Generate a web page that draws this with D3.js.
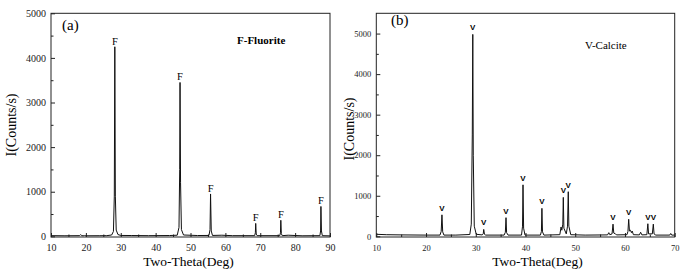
<!DOCTYPE html>
<html lang="en">
<head>
  <meta charset="UTF-8">
  <title>XRD patterns - Fluorite and Calcite</title>
  <script src="https://d3js.org/d3.v7.min.js"></script>
  <style>
    body { margin: 0; background: #fff; }
    svg { display: block; font-family: "Liberation Serif", "Times New Roman", serif; }
    .frame { fill: none; stroke: #222; stroke-width: 1; }
    .trace { fill: none; stroke: #111; stroke-width: 1; }
    .axis path { display: none; }
    .axis line { stroke: #222; }
    .axis text { fill: #222; font-family: "Liberation Serif", serif; }
  </style>
</head>
<body>
<svg id="chart" width="696" height="274"></svg>
<script>
  // (a) fluorite pattern, [two-theta, counts]
  const fluoritePattern = [
    [10, 15], [14, 12], [18.2, 15], [18.5, 40], [18.8, 15], [19.4, 12], [19.6, 30], [19.8, 12],
    [24, 14], [26, 15], [27.4, 30], [27.9, 110], [28.15, 900], [28.3, 4250], [28.45, 900],
    [28.7, 140], [29.2, 40], [30, 20], [33, 18], [38, 15], [44, 18],
    [46.2, 25], [46.7, 200], [46.9, 1500], [47.0, 3450], [47.15, 1200], [47.4, 150], [48, 30],
    [52, 18], [55.3, 20], [55.6, 150], [55.75, 950], [55.95, 120], [56.3, 20],
    [59, 25], [62, 15], [68.4, 15], [68.6, 80], [68.7, 290], [68.85, 50], [69.1, 15],
    [75.6, 15], [75.8, 80], [75.9, 360], [76.05, 60], [76.3, 15], [78, 25], [82, 12],
    [87.1, 15], [87.3, 120], [87.4, 670], [87.55, 120], [87.8, 15], [90, 10]
  ];
  const fluoriteLabels = [28.3, 47.0, 55.75, 68.7, 75.9, 87.4];
  const fluoriteLabelCounts = [4250, 3450, 950, 290, 360, 670];

  // (b) calcite pattern, [two-theta, counts]
  const calcitePattern = [
    [10, 50], [12, 40], [15, 35], [20, 30], [22.8, 30], [23.05, 120], [23.2, 530], [23.35, 110],
    [23.6, 30], [26, 30], [28.8, 45], [29.1, 300], [29.3, 2500], [29.4, 4980], [29.5, 2000],
    [29.7, 250], [30.1, 50], [31.3, 35], [31.5, 60], [31.6, 170], [31.75, 50], [32, 30],
    [35.7, 30], [35.95, 100], [36.08, 460], [36.2, 90], [36.5, 30],
    [39.2, 30], [39.4, 250], [39.5, 1270], [39.62, 200], [39.9, 30],
    [43.0, 30], [43.2, 120], [43.3, 690], [43.42, 110], [43.7, 30],
    [46.9, 40], [47.15, 230], [47.3, 150], [47.5, 300], [47.6, 960], [47.72, 200], [48.2, 60],
    [48.45, 250], [48.6, 1100], [48.72, 250], [49.1, 40], [52, 30],
    [56.5, 35], [56.75, 90], [56.95, 40], [57.4, 60], [57.6, 300], [57.75, 80], [58.1, 60], [58.3, 35],
    [60.4, 40], [60.6, 120], [60.75, 420], [60.9, 130], [61.1, 150], [61.3, 90], [61.45, 130], [61.7, 40],
    [62.9, 35], [63.15, 100], [63.4, 35], [64.4, 40], [64.6, 310], [64.75, 60],
    [65.5, 60], [65.7, 300], [65.85, 60], [66.2, 30], [69.0, 30], [69.2, 70], [69.4, 30], [70, 30]
  ];
  const calciteLabels = [23.2, 29.4, 31.6, 36.08, 39.5, 43.3, 47.6, 48.6, 57.6, 60.75, 64.6, 65.7];
  const calciteLabelCounts = [530, 4980, 170, 460, 1270, 690, 960, 1100, 300, 420, 310, 300];

  const xTicksA = [10, 20, 30, 40, 50, 60, 70, 80, 90];
  const xTicksB = [10, 20, 30, 40, 50, 60, 70];
  const yTicks = [0, 1000, 2000, 3000, 4000, 5000];

  const svg = d3.select("#chart");
  svg.append("rect").attr("width", 696).attr("height", 274).attr("fill", "#fff");

  function panel(o) {
    const x = d3.scaleLinear().domain(o.xDomain).range(o.xRange);
    const y = d3.scaleLinear().domain(o.yDomain).range([237, 13.3]);
    const g = svg.append("g");

    // minor ticks
    const xMinor = d3.range(o.xDomain[0] + 5, o.xDomain[1], 10);
    const yMinor = d3.range(500, o.yDomain[1], 1000);
    g.append("g").attr("class", "axis").attr("transform", "translate(0,237)")
      .call(d3.axisBottom(x).tickValues(xMinor).tickFormat("").tickSizeInner(-2.5).tickSizeOuter(0));
    g.append("g").attr("class", "axis").attr("transform", `translate(${o.xRange[0]},0)`)
      .call(d3.axisLeft(y).tickValues(yMinor).tickFormat("").tickSizeInner(-2.5).tickSizeOuter(0));

    // major ticks
    g.append("g").attr("class", "axis").attr("transform", "translate(0,237)")
      .call(d3.axisBottom(x).tickValues(o.xTicks).tickFormat(d3.format("d"))
        .tickSizeInner(-4).tickSizeOuter(0).tickPadding(o.xPad))
      .selectAll("text").style("font-size", o.tickFont + "px");
    g.append("g").attr("class", "axis").attr("transform", `translate(${o.xRange[0]},0)`)
      .call(d3.axisLeft(y).tickValues(yTicks).tickFormat(d3.format("d"))
        .tickSizeInner(-4).tickSizeOuter(0).tickPadding(5))
      .selectAll("text").style("font-size", o.tickFont + "px");

    // trace
    g.append("path").datum(o.data).attr("class", "trace")
      .attr("d", d3.line().x(d => x(d[0])).y(d => y(d[1])));

    // frame
    g.append("rect").attr("class", "frame")
      .attr("x", o.xRange[0]).attr("y", 13.3)
      .attr("width", o.xRange[1] - o.xRange[0]).attr("height", 237 - 13.3);

    // peak markers
    g.selectAll(".peak").data(o.labels).join("text")
      .attr("x", d => x(d)).attr("y", (d, i) => y(o.labelCounts[i]) - o.labelGap)
      .attr("text-anchor", "middle")
      .style("font-family", o.markFamily).style("font-size", o.markSize + "px")
      .style("font-weight", o.markWeight)
      .text(o.mark);

    // panel tag and phase name
    g.append("text").attr("x", o.tag[0]).attr("y", o.tag[1])
      .style("font-size", "15px").text(o.tag[2]);
    g.append("text").attr("x", o.phase[0]).attr("y", o.phase[1])
      .style("font-size", "11px").style("font-weight", o.phase[3]).text(o.phase[2]);

    // axis titles
    g.append("text").attr("x", (o.xRange[0] + o.xRange[1]) / 2 + o.titleShift).attr("y", 266)
      .attr("text-anchor", "middle").style("font-size", "13.5px").text("Two-Theta(Deg)");
    g.append("text")
      .attr("transform", `translate(${o.yTitle[0]},${o.yTitle[1]}) rotate(-90)`)
      .attr("text-anchor", "middle").style("font-size", "14px").text("I(Counts/s)");
  }

  panel({
    data: fluoritePattern, xDomain: [10, 90], xRange: [51, 330], yDomain: [-15, 5000],
    xTicks: xTicksA, tickFont: 10, xPad: 7,
    labels: fluoriteLabels, labelCounts: fluoriteLabelCounts, labelGap: 2,
    mark: "F", markFamily: "Liberation Serif, serif", markSize: 10.5, markWeight: "normal",
    tag: [62, 30, "(a)"], phase: [237, 44, "F-Fluorite", "bold"],
    titleShift: -2, yTitle: [16, 125]
  });

  panel({
    data: calcitePattern, xDomain: [10, 70], xRange: [376.3, 674.7], yDomain: [-17, 5500],
    xTicks: xTicksB, tickFont: 8.5, xPad: 8,
    labels: calciteLabels, labelCounts: calciteLabelCounts, labelGap: 4,
    mark: "V", markFamily: "Liberation Sans, sans-serif", markSize: 8, markWeight: "bold",
    tag: [391, 25, "(b)"], phase: [585, 49, "V-Calcite", "normal"],
    titleShift: 12, yTitle: [354, 129]
  });
</script>
</body>
</html>
